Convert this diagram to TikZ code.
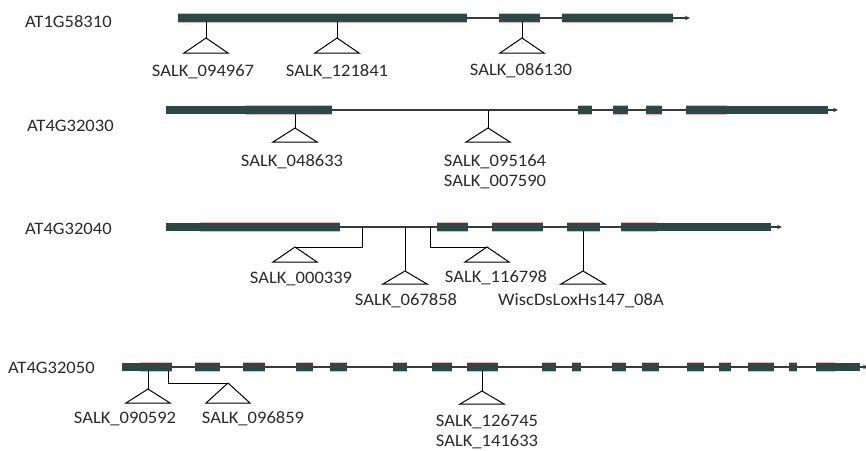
\documentclass[tikz,border=0pt]{standalone}
\usepackage{fontspec}
\setmainfont{Carlito}[FakeStretch=1.06]
\usetikzlibrary{arrows.meta}
\definecolor{exonc}{HTML}{2B4848}
\definecolor{pinkc}{HTML}{F0B4B0}
\definecolor{linec}{HTML}{3A3A3A}
\definecolor{txtc}{HTML}{2A2A2A}
\tikzset{
 intron/.style={draw=linec, line width=1.2pt},
 stem/.style={draw=black, line width=0.9pt},
 tri/.style={draw=black, line width=1pt, fill=white, line join=miter},
 lbl/.style={font=\fontsize{17.5}{20}\selectfont, text=txtc, inner sep=0pt, anchor=base},
 glbl/.style={font=\fontsize{17.5}{20}\selectfont, text=txtc, inner sep=0pt, anchor=base west},
 tip/.style={-{Stealth[length=5pt,width=4.5pt]}}
}
\newcommand\cdsbox[3]{\fill[pinkc] (#1,#3-5.3) rectangle (#2,#3+5.3); \fill[exonc] (#1,#3-4.3) rectangle (#2,#3+4.3);}
\newcommand\utrbox[3]{\fill[exonc] (#1,#3-4.2) rectangle (#2,#3+4.2);}
\newcommand\tinstr[3]{\draw[tri] (#1,#2) -- (#1-22,#3) -- (#1+22,#3) -- cycle;}
\begin{document}
\begin{tikzpicture}[x=1pt,y=-1pt]
\useasboundingbox (0,0) rectangle (866,450);
% ---------- Gene 1 ----------
\node[glbl] (g1) at (25,27) {AT1G58310};
\coordinate (g1s) at (178,18); \coordinate (g1e) at (690,18);
\draw[intron,tip] (g1s) -- (g1e);
\cdsbox{178}{467}{18}
\cdsbox{499}{540}{18}
\cdsbox{562}{673}{18}
\coordinate (p11) at (206,22); \coordinate (a11) at (206,38);
\coordinate (p12) at (337,22); \coordinate (a12) at (337,38);
\coordinate (p13) at (522,22); \coordinate (a13) at (522,38);
\draw[stem] (p11) -- (a11); \tinstr{206}{38}{53}
\draw[stem] (p12) -- (a12); \tinstr{337}{38}{53}
\draw[stem] (p13) -- (a13); \tinstr{522}{38}{53}
\node[lbl] (l11) at (203,76) {SALK\_094967};
\node[lbl] (l12) at (337,76) {SALK\_121841};
\node[lbl] (l13) at (521,75) {SALK\_086130};
% ---------- Gene 2 ----------
\node[glbl] (g2) at (27,131) {AT4G32030};
\coordinate (g2s) at (166,110); \coordinate (g2e) at (838,110);
\draw[intron,tip] (g2s) -- (g2e);
\utrbox{166}{245}{110}
\cdsbox{245}{332}{110}
\cdsbox{578}{592}{110}
\cdsbox{613}{628}{110}
\cdsbox{646}{662}{110}
\cdsbox{686}{727}{110}
\utrbox{727}{828}{110}
\coordinate (p21) at (295,114); \coordinate (a21) at (295,128);
\coordinate (p22) at (488,110); \coordinate (a22) at (488,128);
\draw[stem] (p21) -- (a21); \tinstr{295}{128}{142}
\draw[stem] (p22) -- (a22); \tinstr{488}{128}{142}
\node[lbl] (l21) at (292,166) {SALK\_048633};
\node[lbl] (l22) at (495,166) {SALK\_095164};
\node[lbl] (l23) at (495,186) {SALK\_007590};
% ---------- Gene 3 ----------
\node[glbl] (g3) at (25,234) {AT4G32040};
\coordinate (g3s) at (166,227); \coordinate (g3e) at (782,227);
\draw[intron,tip] (g3s) -- (g3e);
\utrbox{166}{200}{227}
\cdsbox{200}{340}{227}
\cdsbox{437}{468}{227}
\cdsbox{492}{543}{227}
\cdsbox{567}{600}{227}
\cdsbox{621}{657}{227}
\utrbox{657}{771}{227}
\coordinate (p31) at (362,227); \coordinate (a31) at (295,247);
\coordinate (p32) at (405,227); \coordinate (a32) at (405,271);
\coordinate (p33) at (430,227); \coordinate (a33) at (487,247);
\coordinate (p34) at (583,231); \coordinate (a34) at (583,271);
\draw[stem] (p31) |- (a31); \tinstr{295}{247}{262}
\draw[stem] (p32) -- (a32); \tinstr{405}{271}{284}
\draw[stem] (p33) |- (a33); \tinstr{487}{247}{262}
\draw[stem] (p34) -- (a34); \tinstr{583}{271}{284}
\node[lbl] (l31) at (301,283) {SALK\_000339};
\node[lbl] (l32) at (406,305) {SALK\_067858};
\node[lbl] (l33) at (496,282) {SALK\_116798};
\node[lbl] (l34) at (581,305) {WiscDsLoxHs147\_08A};
% ---------- Gene 4 ----------
\node[glbl] (g4) at (8,373) {AT4G32050};
\coordinate (g4s) at (122,367); \coordinate (g4e) at (868,367);
\draw[intron,tip] (g4s) -- (g4e);
\utrbox{122}{140}{367}
\cdsbox{140}{172}{367}
\cdsbox{195}{220}{367}
\cdsbox{243}{265}{367}
\cdsbox{296}{313}{367}
\cdsbox{330}{347}{367}
\cdsbox{393}{407}{367}
\cdsbox{432}{452}{367}
\cdsbox{467}{498}{367}
\cdsbox{542}{556}{367}
\cdsbox{572}{581}{367}
\cdsbox{612}{626}{367}
\cdsbox{642}{659}{367}
\cdsbox{687}{704}{367}
\cdsbox{719}{731}{367}
\cdsbox{748}{774}{367}
\cdsbox{789}{797}{367}
\cdsbox{816}{835}{367}
\utrbox{835}{860}{367}
\coordinate (p41) at (148,371); \coordinate (a41) at (148,389);
\coordinate (p42) at (168,371); \coordinate (a42) at (228,383);
\coordinate (p43) at (482,371); \coordinate (a43) at (482,391);
\draw[stem] (p41) -- (a41); \tinstr{148}{389}{403}
\draw[stem] (p42) |- (a42); \tinstr{228}{383}{403}
\draw[stem] (p43) -- (a43); \tinstr{482}{391}{404}
\node[lbl] (l41) at (125,423) {SALK\_090592};
\node[lbl] (l42) at (253,423) {SALK\_096859};
\node[lbl] (l43) at (487,426) {SALK\_126745};
\node[lbl] (l44) at (487,446) {SALK\_141633};
\end{tikzpicture}
\end{document}
